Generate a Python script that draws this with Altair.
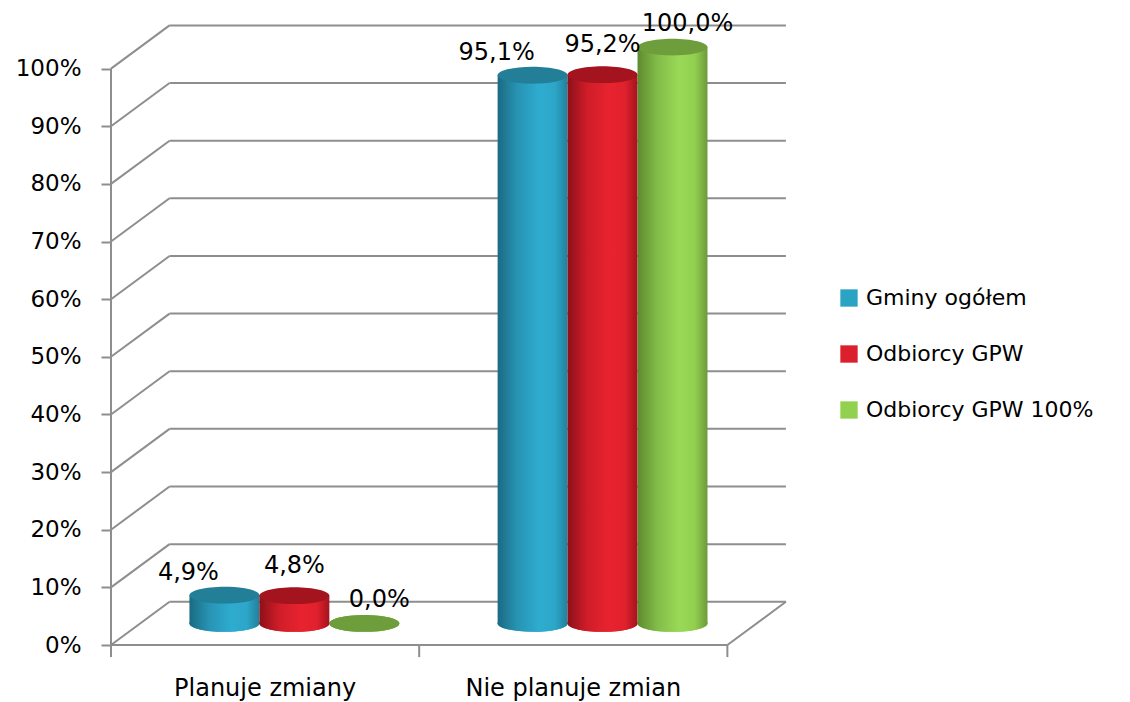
import altair as alt
import pandas as pd

# ---- data ----
categories = ["Planuje zmiany", "Nie planuje zmian"]
series = ["Gminy ogółem", "Odbiorcy GPW", "Odbiorcy GPW 100%"]
values_planuje = [4.9, 4.8, 0.0]
values_nie_planuje = [95.1, 95.2, 100.0]
y_ticks = [0, 10, 20, 30, 40, 50, 60, 70, 80, 90, 100]

# ---- style ----
FONT = "DejaVu Sans"
GRID = "#8e8e8e"
legend_colors = ["#2BA3C2", "#DC1F2C", "#92D050"]
top_colors = ["#237E98", "#A3141E", "#6E9E3C"]
side_stops = [
    ["#1B6A82", "#2793B3", "#2EACD0", "#2DA6C8", "#21809B"],
    ["#8C1119", "#CF1D29", "#E8232F", "#E0212D", "#A3141E"],
    ["#5E8A2F", "#82BC48", "#9AD957", "#92CF50", "#6C9A39"],
]
stop_offsets = [0.0, 0.28, 0.6, 0.82, 1.0]
label_dx = [-36, 0, 15]     # 3D-projected label placement per series (px)
label_dy = [-22, -30, -23]

# 3D geometry (in data units): depth offset of the back wall
DX = 0.19   # horizontal (category units)
DY = 7.5    # vertical (percent units)
W = 0.227   # cylinder width (category units)
X_DOMAIN = [0, 2.2]
Y_DOMAIN = [0, 110]
PLOT_W = 678
PLOT_H = 634
ELLIPSE = "M -1 0 A 1 0.24 0 1 0 1 0 A 1 0.24 0 1 0 -1 0 Z"
ELL_SIZE = (W / (X_DOMAIN[1] - X_DOMAIN[0]) * PLOT_W) ** 2

rows = []
for g, (cat, vals) in enumerate(zip(categories, [values_planuje, values_nie_planuje])):
    for i, (s, v) in enumerate(zip(series, vals)):
        c = g + 0.5 + DX / 2 + (i - 1) * W
        rows.append(dict(category=cat, series=s, sidx=i, value=v, xc=c,
                         x0=c - W / 2, x1=c + W / 2, ybase=DY / 2, ytop=v + DY / 2,
                         label=f"{v:.1f}".replace(".", ",") + "%"))
df = pd.DataFrame(rows)

xs = alt.Scale(domain=X_DOMAIN)
ys = alt.Scale(domain=Y_DOMAIN)
Y_AXIS = alt.Axis(values=y_ticks, labelExpr="datum.value + '%'", domain=False, grid=False,
                  ticks=True, tickSize=10, tickColor=GRID, tickWidth=2,
                  labelFontSize=23, labelFont=FONT, labelColor="black", labelPadding=20)


def xe(f):
    return alt.X(f, scale=xs, axis=None)


def ye(f):
    return alt.Y(f, scale=ys, axis=Y_AXIS, title=None)


# grid: back wall horizontals and left-wall diagonals
grid = pd.DataFrame({"v": y_ticks})
grid["yb"] = grid["v"] + DY
grid["xa"] = DX
grid["xb"] = 2 + DX
grid["x0"] = 0.0

back = alt.Chart(grid).mark_rule(color=GRID, strokeWidth=2).encode(
    x=xe("xa:Q"), x2="xb:Q", y=ye("yb:Q"))
diag = alt.Chart(grid).mark_rule(color=GRID, strokeWidth=2).encode(
    x=xe("x0:Q"), x2="xa:Q", y=ye("v:Q"), y2="yb:Q")

frame = pd.DataFrame({
    "xa": [0, 2, 0, 0, 1, 2],
    "xb": [2, 2 + DX, 0, 0, 1, 2],
    "ya": [0, 0, 0, 0, 0, 0],
    "yb": [0, DY, 100, -2.1, -2.1, -2.1],
})
frame_layer = alt.Chart(frame).mark_rule(color=GRID, strokeWidth=2).encode(
    x=xe("xa:Q"), x2="xb:Q", y=ye("ya:Q"), y2="yb:Q")

# legend source: flat bottom ellipses
legend_layer = alt.Chart(df).mark_point(filled=True, opacity=1, shape=ELLIPSE, size=ELL_SIZE).encode(
    x=xe("xc:Q"), y=ye("ybase:Q"),
    color=alt.Color("series:N", scale=alt.Scale(domain=series, range=legend_colors),
                    legend=alt.Legend(title=None, orient="none", legendX=727, legendY=276,
                                      symbolType="square", symbolSize=300, symbolStrokeWidth=0,
                                      labelFontSize=22, labelFont=FONT, labelColor="black",
                                      labelLimit=0, labelOffset=6, rowPadding=34)))

layers = [back, diag, frame_layer, legend_layer]
for i, s in enumerate(series):
    grad = alt.Gradient(gradient="linear", x1=0, x2=1, y1=0, y2=0,
                        stops=[alt.GradientStop(offset=o, color=c)
                               for o, c in zip(stop_offsets, side_stops[i])])
    sub = alt.Chart(df).transform_filter(alt.datum.sidx == i)
    layers.append(sub.mark_point(filled=True, opacity=1, shape=ELLIPSE, size=ELL_SIZE, color=grad).encode(
        x=xe("xc:Q"), y=ye("ybase:Q")))
    layers.append(sub.mark_bar(color=grad).encode(
        x=xe("x0:Q"), x2="x1:Q", y=ye("ybase:Q"), y2="ytop:Q"))
    layers.append(sub.mark_point(filled=True, opacity=1, shape=ELLIPSE, size=ELL_SIZE,
                                 color=top_colors[i]).encode(
        x=xe("xc:Q"), y=ye("ytop:Q")))

for i, s in enumerate(series):
    layers.append(alt.Chart(df).transform_filter(alt.datum.sidx == i).mark_text(
        fontSize=24, font=FONT, color="black", dx=label_dx[i], dy=label_dy[i], baseline="middle").encode(
        x=xe("xc:Q"), y=ye("ytop:Q"), text="label:N"))

cat_df = pd.DataFrame({"category": categories, "xm": [0.5, 1.5], "ym": [-8.9, -8.9]})
cat_labels = alt.Chart(cat_df).mark_text(fontSize=24, font=FONT, color="black", baseline="alphabetic").encode(
    x=xe("xm:Q"), y=ye("ym:Q"), text="category:N")
layers.append(cat_labels)

chart = alt.layer(*layers).properties(
    width=PLOT_W, height=PLOT_H,
    autosize=alt.AutoSizeParams(type="none"),
    padding={"left": 103, "top": 3, "right": 330, "bottom": 58},
    background="white",
).configure_view(stroke=None)

chart.save("out.html", embed_options={"renderer": "svg", "actions": False})
